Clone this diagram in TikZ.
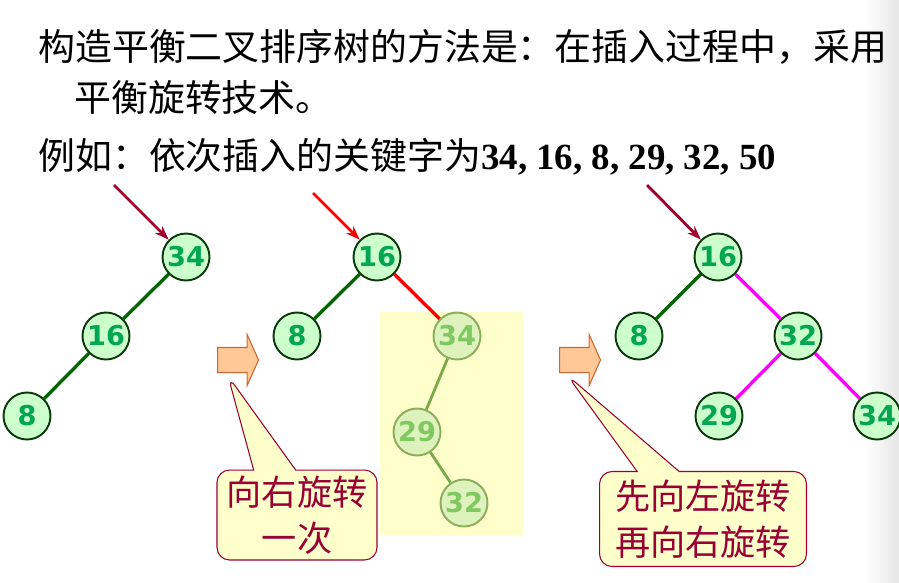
\documentclass[tikz,border=0pt]{standalone}
\usepackage{fontspec}
\setmainfont{Liberation Serif}
\newfontfamily\cjk{Noto Sans CJK SC}
\newfontfamily\numfont{DejaVu Sans}
\usetikzlibrary{arrows.meta,shapes.arrows,shapes.callouts}

\definecolor{keyfill}{HTML}{CCFFCC}
\definecolor{keydraw}{HTML}{0A3A0A}
\definecolor{keytext}{HTML}{00A651}
\definecolor{edgegreen}{HTML}{006600}
\definecolor{fadefill}{HTML}{DDF2BC}
\definecolor{fadedraw}{HTML}{8AAE5A}
\definecolor{fadetext}{HTML}{80C860}
\definecolor{fadeedge}{HTML}{78AA48}
\definecolor{hotpink}{HTML}{FF00FF}
\definecolor{notefill}{HTML}{FFFFCC}
\definecolor{notered}{HTML}{990033}
\definecolor{ptrred}{HTML}{A0002A}
\definecolor{arrfill}{HTML}{FFC896}
\definecolor{arrdraw}{HTML}{CC6633}

\begin{document}
\begin{tikzpicture}[x=0.02cm,y=-0.02cm,
  key/.style={circle,draw=keydraw,line width=1.1pt,fill=keyfill,
    minimum size=0.94cm,inner sep=0pt,text=keytext,
    font=\numfont\bfseries\fontsize{15.5pt}{17pt}\selectfont},
  fadekey/.style={key,draw=fadedraw,fill=fadefill,text=fadetext},
  edge/.style={draw=edgegreen,line width=1.9pt},
  fadeedge/.style={draw=fadeedge,line width=1.6pt},
  hot/.style={draw=hotpink,line width=1.9pt},
  ptr/.style={-{Stealth[length=0.28cm,width=0.2cm]},line width=1.6pt},
  blockarrow/.style={single arrow,draw=arrdraw,fill=arrfill,line width=0.6pt,
    anchor=tail,inner sep=0.24cm,single arrow head extend=0.26cm,
    single arrow tip angle=132,minimum height=0.82cm,minimum width=1cm},
  note/.style={rectangle callout,draw=notered,fill=notefill,line width=0.6pt,
    rounded corners=0.25cm,callout pointer width=0.84cm,align=center,
    text=notered,font=\cjk\fontsize{20pt}{26pt}\selectfont}]

\useasboundingbox (0,0) rectangle (899,582);

% bande grise a droite
\shade[left color=white,right color=black!10] (866,0) rectangle (899,582);

% Texte du haut
\node[anchor=west,inner sep=0pt,font=\cjk\fontsize{21pt}{25pt}\selectfont]
(line1) at (38,47) {构造平衡二叉排序树的方法是：在插入过程中，采用};
\node[anchor=west,inner sep=0pt,font=\cjk\fontsize{21pt}{25pt}\selectfont]
(line2) at (74,97) {平衡旋转技术。};
\node[anchor=west,inner sep=0pt,font=\fontsize{21pt}{25pt}\selectfont]
(line3) at (38,157) {{\cjk 例如：依次插入的关键字为}\textbf{34, 16, 8, 29, 32, 50}};

% Arbre 1
\node[key] (a34) at (186,257) {34};
\node[key] (a16) at (106,336) {16};
\node[key] (a8) at (27,416) {8};
\draw[edge] (a34) -- (a16);
\draw[edge] (a16) -- (a8);
\coordinate (inA) at (114,185);
\draw[ptr,ptrred] (inA) -- (a34);

% Arbre 2
\fill[notefill] (380,312) rectangle (523,535);
\node[key] (b16) at (377,257) {16};
\node[key] (b8) at (297,336) {8};
\node[fadekey] (b34) at (457,336) {34};
\node[fadekey] (b29) at (417,432) {29};
\node[fadekey] (b32) at (464,503) {32};
\draw[edge] (b16) -- (b8);
\draw[draw=red,line width=1.9pt] (b16) -- (b34);
\draw[fadeedge] (b34) -- (b29);
\draw[fadeedge] (b29) -- (b32);
\coordinate (inB) at (313,193);
\draw[ptr,red] (inB) -- (b16);

% Arbre 3
\node[key] (c16) at (718,257) {16};
\node[key] (c8) at (639,336) {8};
\node[key] (c32) at (798,336) {32};
\node[key] (c29) at (719,416) {29};
\node[key] (c34) at (877,416) {34};
\draw[edge] (c16) -- (c8);
\draw[hot] (c16) -- (c32);
\draw[hot] (c32) -- (c29);
\draw[hot] (c32) -- (c34);
\coordinate (inC) at (647,185);
\draw[ptr,ptrred] (inC) -- (c16);

% Fleches pleines
\node[blockarrow] (arrA) at (217,360) {};
\node[blockarrow] (arrB) at (559,360) {};

% Bulles
\coordinate (tipA) at (228,376);
\coordinate (tipB) at (567,375);
\node[note,callout absolute pointer={(tipA)},minimum width=3.2cm,minimum height=1.72cm]
(noteA) at (297,515) {向右旋转\\一次};
\node[note,callout absolute pointer={(tipB)},minimum width=4.14cm,minimum height=1.9cm]
(noteB) at (703,519) {先向左旋转\\再向右旋转};

\end{tikzpicture}
\end{document}
